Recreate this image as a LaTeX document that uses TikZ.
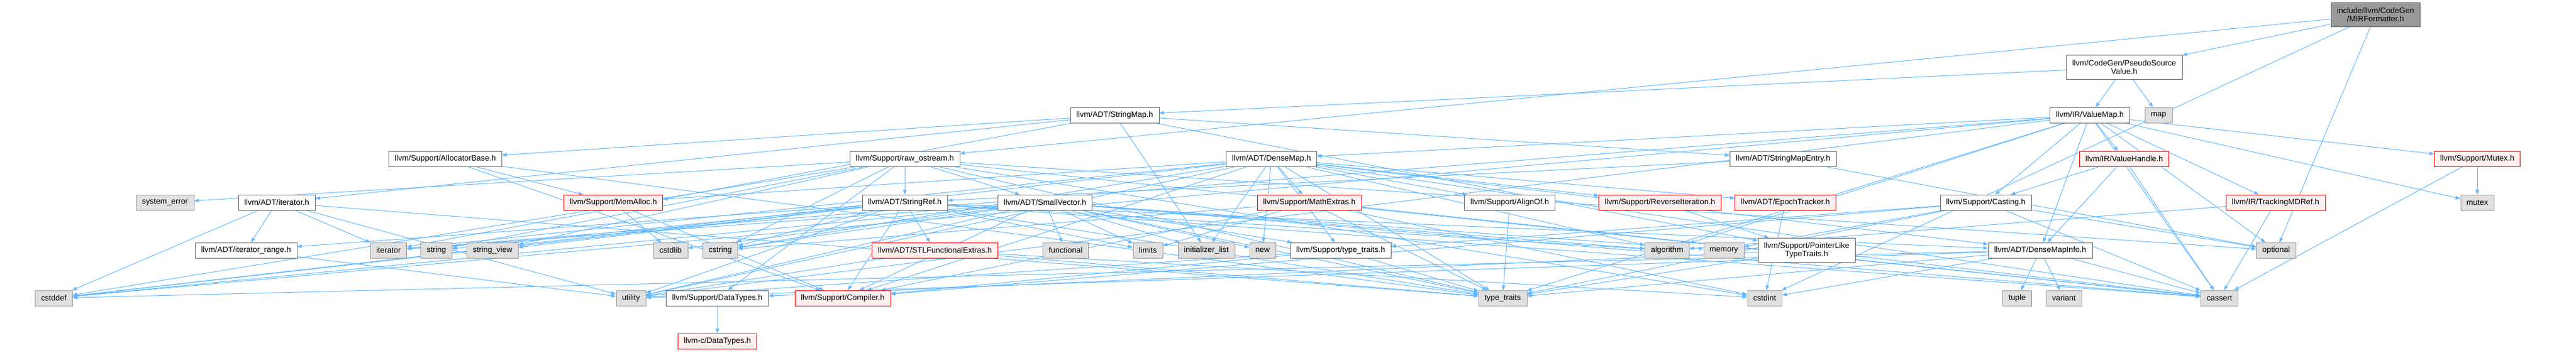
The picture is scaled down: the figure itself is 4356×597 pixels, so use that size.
\documentclass[tikz,border=0pt]{standalone}
\usepackage{fontspec}
\setmainfont{Liberation Sans}
\usetikzlibrary{arrows.meta,backgrounds}
\definecolor{edgeblue}{HTML}{63B8FF}
\definecolor{rootgray}{HTML}{999999}
\definecolor{linegray}{HTML}{666666}
\definecolor{sysgray}{HTML}{999999}
\definecolor{sysfill}{HTML}{E0E0E0}
\definecolor{cutred}{HTML}{FF0000}
\definecolor{cutfill}{HTML}{FFF0F0}

\begin{document}
\begin{tikzpicture}[x=0.75pt,y=-0.75pt,
  hdr/.style={draw=linegray,fill=white,inner xsep=7.5pt,inner ysep=0pt,
    minimum height=19.5pt,align=center,font=\fontsize{10}{10.5}\selectfont},
  tall/.style={minimum height=30.75pt},
  rootfile/.style={hdr,tall,fill=rootgray},
  sysfile/.style={hdr,draw=sysgray,fill=sysfill},
  cutfile/.style={hdr,draw=cutred,fill=cutfill},
  dep/.style={draw=edgeblue,line width=0.75pt,-{Triangle[length=6pt,width=4.5pt]}}]
\useasboundingbox (0,0) rectangle (4356,597);

% rows of included files
\node[rootfile] (mir) at (4017,25) {include/llvm/CodeGen\\/MIRFormatter.h};
\node[hdr,tall] (psv) at (3592,114) {llvm/CodeGen/PseudoSource\\Value.h};

\node[hdr] (smap) at (1885,195) {llvm/ADT/StringMap.h};
\node[hdr] (vmap) at (3534,195) {llvm/IR/ValueMap.h};
\node[sysfile] (map) at (3650,195) {map};

\node[hdr] (allocb) at (753,269) {llvm/Support/AllocatorBase.h};
\node[hdr] (rawos) at (1530,269) {llvm/Support/raw\_ostream.h};
\node[hdr] (dmap) at (2150,269) {llvm/ADT/DenseMap.h};
\node[hdr] (smapent) at (3015,269) {llvm/ADT/StringMapEntry.h};
\node[cutfile] (vhandle) at (3592,269) {llvm/IR/ValueHandle.h};
\node[cutfile] (mutexh) at (4189,269) {llvm/Support/Mutex.h};

\node[sysfile] (syserr) at (279,343) {system\_error};
\node[hdr] (iterh) at (468,343) {llvm/ADT/iterator.h};
\node[cutfile] (memalloc) at (1037,343) {llvm/Support/MemAlloc.h};
\node[hdr] (sref) at (1530,343) {llvm/ADT/StringRef.h};
\node[hdr] (svec) at (1767,343) {llvm/ADT/SmallVector.h};
\node[cutfile] (mathx) at (2214,343) {llvm/Support/MathExtras.h};
\node[hdr] (alignof) at (2553,343) {llvm/Support/AlignOf.h};
\node[cutfile] (reviter) at (2807,343) {llvm/Support/ReverseIteration.h};
\node[cutfile] (epoch) at (3019,343) {llvm/ADT/EpochTracker.h};
\node[hdr] (casting) at (3358,343) {llvm/Support/Casting.h};
\node[cutfile] (tmdref) at (3848,343) {llvm/IR/TrackingMDRef.h};
\node[sysfile] (mutex) at (4189,343) {mutex};

\node[hdr] (iterrange) at (416,424) {llvm/ADT/iterator\_range.h};
\node[sysfile] (iterator) at (657,424) {iterator};
\node[sysfile] (string) at (738,424) {string};
\node[sysfile] (strview) at (833,424) {string\_view};
\node[sysfile] (cstdlib) at (1134,424) {cstdlib};
\node[sysfile] (cstring) at (1218,424) {cstring};
\node[cutfile] (stlfx) at (1581,424) {llvm/ADT/STLFunctionalExtras.h};
\node[sysfile] (functional) at (1802,424) {functional};
\node[sysfile] (limits) at (1941,424) {limits};
\node[sysfile] (initlist) at (2040,424) {initializer\_list};
\node[sysfile] (new) at (2135,424) {new};
\node[hdr] (suptt) at (2267,424) {llvm/Support/type\_traits.h};
\node[sysfile] (algorithm) at (2819,424) {algorithm};
\node[sysfile] (memory) at (2915,424) {memory};
\node[hdr,tall] (plike) at (3055,424) {llvm/Support/PointerLike\\TypeTraits.h};
\node[hdr] (dminfo) at (3450,424) {llvm/ADT/DenseMapInfo.h};
\node[sysfile] (optional) at (3849,424) {optional};

\node[sysfile] (cstddef) at (91,505) {cstddef};
\node[sysfile] (utility) at (1067,505) {utility};
\node[hdr] (datatypes) at (1213,505) {llvm/Support/DataTypes.h};
\node[cutfile] (compiler) at (1425,505) {llvm/Support/Compiler.h};
\node[sysfile] (typetraits) at (2541,505) {type\_traits};
\node[sysfile] (cstdint) at (2984,505) {cstdint};
\node[sysfile] (tuple) at (3411,505) {tuple};
\node[sysfile] (variant) at (3490,505) {variant};
\node[sysfile] (cassert) at (3753,505) {cassert};

\node[cutfile] (cdatatypes) at (1213,578) {llvm-c/DataTypes.h};

% include edges
\begin{scope}[on background layer]
\foreach \s/\t in {mir/psv,mir/rawos,mir/optional,mir/cstdint,
  psv/smap,psv/vmap,psv/map,
  smap/smapent,smap/iterh,smap/allocb,smap/plike,smap/initlist,smap/iterator,
  vmap/dmap,vmap/dminfo,vmap/tmdref,vmap/vhandle,vmap/casting,vmap/mutexh,
  vmap/algorithm,vmap/cassert,vmap/cstddef,vmap/iterator,vmap/mutex,
  vmap/optional,vmap/typetraits,vmap/utility,
  rawos/svec,rawos/sref,rawos/datatypes,rawos/cassert,rawos/cstddef,
  rawos/cstdint,rawos/cstring,rawos/optional,rawos/string,rawos/strview,
  rawos/syserr,rawos/typetraits,
  dmap/dminfo,dmap/epoch,dmap/alignof,dmap/compiler,dmap/mathx,dmap/memalloc,
  dmap/reviter,dmap/suptt,dmap/algorithm,dmap/cassert,dmap/cstddef,
  dmap/cstring,dmap/initlist,dmap/iterator,dmap/new,dmap/typetraits,dmap/utility,
  smapent/sref,smapent/optional,
  vhandle/dminfo,vhandle/casting,vhandle/cassert,
  mutexh/cassert,mutexh/mutex,
  allocb/compiler,allocb/memalloc,allocb/typetraits,
  iterh/iterrange,iterh/cstddef,iterh/iterator,iterh/typetraits,iterh/utility,
  memalloc/compiler,memalloc/cstdlib,
  sref/dminfo,sref/stlfx,sref/iterrange,sref/compiler,sref/algorithm,
  sref/cassert,sref/cstddef,sref/cstring,sref/limits,sref/string,
  sref/strview,sref/typetraits,sref/utility,
  svec/compiler,svec/suptt,svec/algorithm,svec/cassert,svec/cstddef,
  svec/cstdlib,svec/cstring,svec/functional,svec/initlist,svec/iterator,
  svec/limits,svec/memory,svec/new,svec/typetraits,svec/utility,
  mathx/compiler,mathx/cassert,mathx/cstdint,mathx/cstring,mathx/limits,
  mathx/typetraits,
  alignof/typetraits,reviter/plike,epoch/cstdint,
  casting/compiler,casting/suptt,casting/cassert,casting/memory,
  casting/optional,casting/typetraits,
  tmdref/algorithm,tmdref/cassert,
  iterrange/utility,
  stlfx/cstdint,stlfx/typetraits,stlfx/utility,
  suptt/compiler,suptt/typetraits,suptt/utility,
  plike/datatypes,plike/cassert,plike/typetraits,
  dminfo/cassert,dminfo/cstddef,dminfo/cstdint,dminfo/tuple,
  dminfo/typetraits,dminfo/utility,dminfo/variant,
  datatypes/cdatatypes}
  \draw[dep] (\s) -- (\t);
\end{scope}
\end{tikzpicture}
\end{document}
